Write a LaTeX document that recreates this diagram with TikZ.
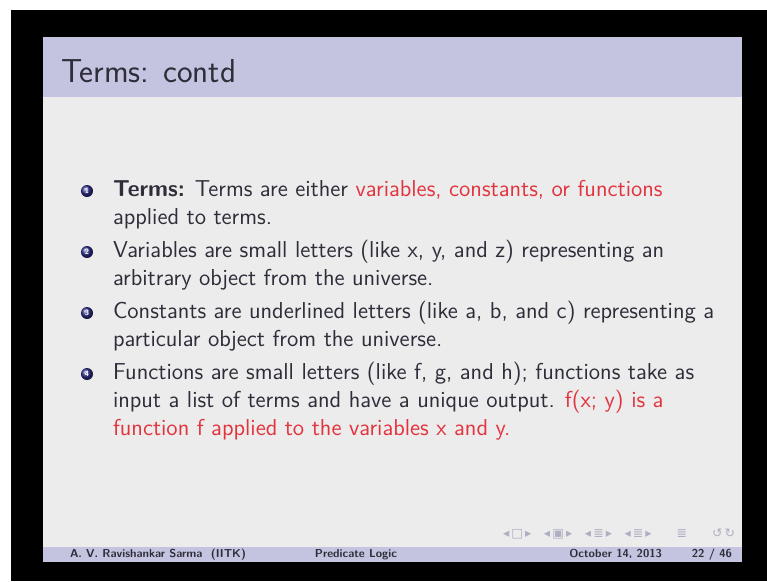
\documentclass[tikz,border=0pt]{standalone}
\usepackage{fontspec}
\newfontfamily\navfont{DejaVu Sans}
\definecolor{slidegray}{RGB}{236,236,236}
\definecolor{lavender}{RGB}{196,196,224}
\definecolor{inkgray}{RGB}{46,46,58}
\definecolor{alertred}{RGB}{226,52,62}
\definecolor{ballblue}{RGB}{48,48,140}
\definecolor{navgray}{RGB}{175,175,195}
\newcommand{\alrt}[1]{\textcolor{alertred}{#1}}

\begin{document}
\begin{tikzpicture}[x=0.18312mm, y=-0.18312mm,
    every node/.style={inner sep=0pt, outer sep=0pt},
    slidetext/.style={anchor=base west, align=left, text=inkgray,
      font=\sffamily\fontsize{12}{14.5}\selectfont},
    titletext/.style={anchor=base west, text=inkgray,
      font=\sffamily\fontsize{17.28}{20}\selectfont},
    ballitem/.style={circle, minimum size=2.2mm, shading=ball, ball color=ballblue,
      text=white, font=\sffamily\bfseries\fontsize{4}{4}\selectfont},
    foottext/.style={anchor=base, text=inkgray, font=\sffamily\bfseries\fontsize{6}{7}\selectfont},
    navsym/.style={anchor=base east, text=navgray, font=\navfont\fontsize{6.5}{7}\selectfont}]
  \useasboundingbox (0,0) rectangle (767,581);
  \fill[white] (0,0) rectangle (767,581);
  \fill[black] (11,10) rectangle (767,581);
  % slide, head bar and foot bar
  \fill[slidegray] (43,37) rectangle (742,562);
  \fill[lavender] (43,37) rectangle (742,97);
  \fill[lavender] (43,547) rectangle (742,562);
  \node[titletext] (title) at (61,82) {Terms: contd};

  % base anchor sits on the last line of each item
  \node[ballitem] (b1) at (87,191) {1};
  \node[slidetext] (t1) at (113,224) {\textbf{Terms:} Terms are either \alrt{variables, constants, or functions}\\
    applied to terms.};
  \node[ballitem] (b2) at (87,252) {2};
  \node[slidetext] (t2) at (113,285) {Variables are small letters (like x, y, and z) representing an\\
    arbitrary object from the universe.};
  \node[ballitem] (b3) at (87,313) {3};
  \node[slidetext] (t3) at (113,346) {Constants are underlined letters (like a, b, and c) representing a\\
    particular object from the universe.};
  \node[ballitem] (b4) at (87,374) {4};
  \node[slidetext] (t4) at (113,435) {Functions are small letters (like f, g, and h); functions take as\\
    input a list of terms and have a unique output. \alrt{f(x; y) is a}\\
    \alrt{function f applied to the variables x and y.}};

  \node[navsym] (nav) at (735,537) {◂\,□\,▸\quad◂\,▣\,▸\quad◂\,≣\,▸\quad◂\,≣\,▸\qquad≣\qquad↺\,↻};
  \node[foottext] (author) at (158,557) {A. V. Ravishankar Sarma~~(IITK)};
  \node[foottext] (short) at (356,557) {Predicate Logic};
  \node[foottext, anchor=base east] (date) at (662,557) {October 14, 2013};
  \node[foottext, anchor=base east] (page) at (732,557) {22 / 46};
\end{tikzpicture}
\end{document}
